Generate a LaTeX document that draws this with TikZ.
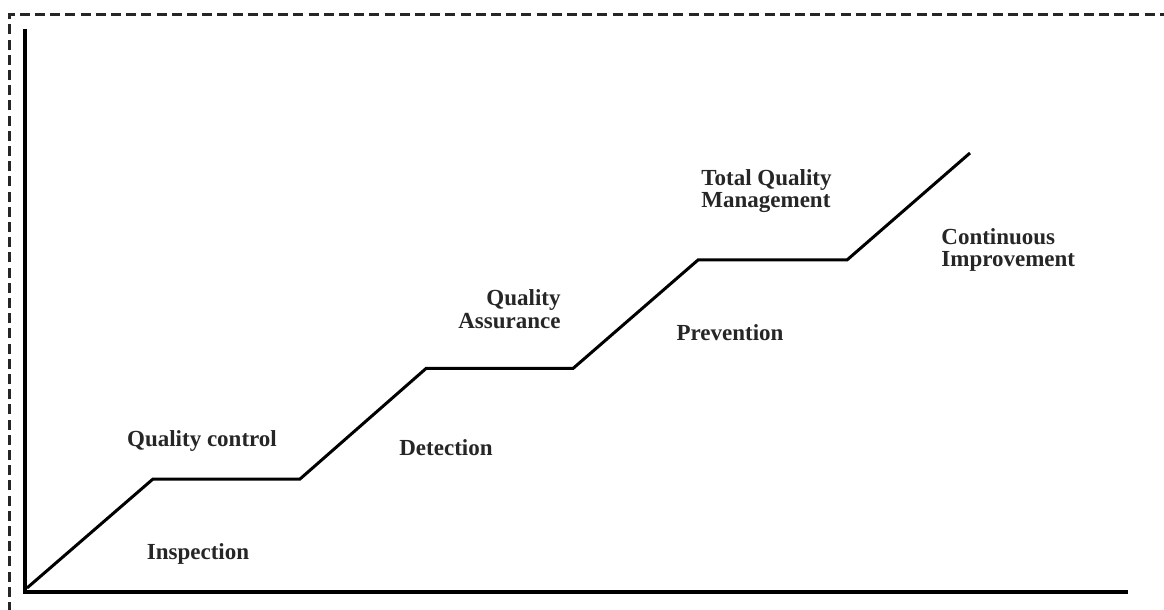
\documentclass[tikz,border=0pt]{standalone}
\usepackage{fontspec}
\setmainfont{Liberation Serif}
\begin{document}
\begin{tikzpicture}[x=0.5pt,y=-0.5pt,
  lbl/.style={font=\fontsize{11.5pt}{11.2pt}\selectfont\bfseries, inner sep=0pt, text=black!85},
  axisline/.style={line width=2pt, black},
  stepline/.style={line width=1.5pt, black, line join=miter},
  frameline/.style={line width=1.3pt, black!85, dash pattern=on 5pt off 2.6pt}]
\useasboundingbox (0,0) rectangle (1164,610);
\fill[white] (0,0) rectangle (1164,610);
% dashed frame
\coordinate (fbl) at (9.5,612);
\coordinate (ftl) at (9.5,14.3);
\coordinate (ftr) at (1166,14.3);
\draw[frameline] (fbl) -- (ftl) -- (ftr);
% axes
\coordinate (ytop) at (25,29);
\coordinate (orig) at (25,592);
\coordinate (xend) at (1128,592);
\draw[axisline] (ytop) -- (orig) -- (xend);
% step curve
\coordinate (p0) at (27,588);
\coordinate (p1) at (153,479);
\coordinate (p2) at (300,479);
\coordinate (p3) at (426,368.5);
\coordinate (p4) at (573,368.5);
\coordinate (p5) at (698,260);
\coordinate (p6) at (847,260);
\coordinate (p7) at (970,153);
\draw[stepline] (p0) -- (p1) -- (p2) -- (p3) -- (p4) -- (p5) -- (p6) -- (p7);
% labels
\node[lbl] (insp) at (198,554) {Inspection};
\node[lbl] (qc) at (202,441) {Quality control};
\node[lbl] (det) at (446,448) {Detection};
\node[lbl, align=right, anchor=east] (qa) at (561,309) {Quality\\Assurance};
\node[lbl] (prev) at (730,333) {Prevention};
\node[lbl, align=left, anchor=west] (tqm) at (701,191) {Total Quality\\Management};
\node[lbl, align=left, anchor=west] (ci) at (941,250) {Continuous\\Improvement};
\end{tikzpicture}
\end{document}
